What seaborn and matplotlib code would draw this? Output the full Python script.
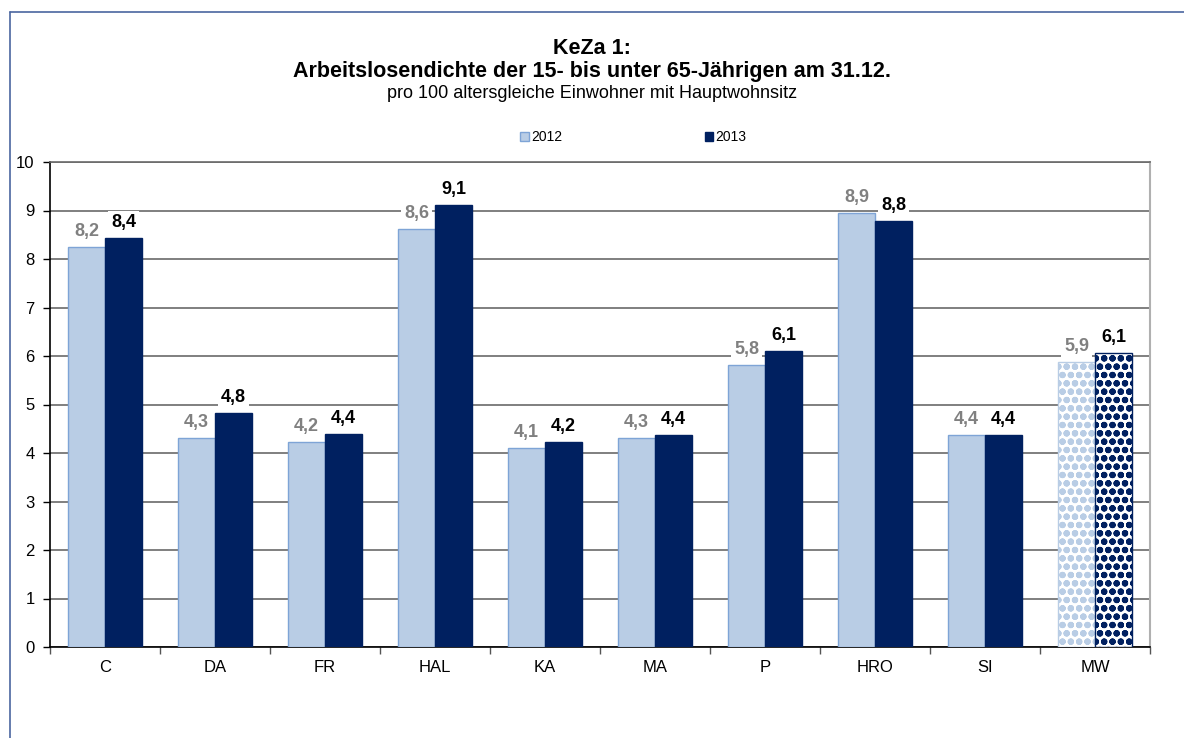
import pandas as pd
import seaborn as sns
import numpy as np
import matplotlib.pyplot as plt
from matplotlib.lines import Line2D

# data
cities = ['C', 'DA', 'FR', 'HAL', 'KA', 'MA', 'P', 'HRO', 'SI', 'MW']
vals_2012 = [8.24, 4.31, 4.23, 8.62, 4.10, 4.31, 5.82, 8.94, 4.38, 5.88]
vals_2013 = [8.44, 4.82, 4.40, 9.12, 4.23, 4.38, 6.10, 8.78, 4.37, 6.07]
years = ['2012', '2013']

df = pd.DataFrame({
    'stadt': cities * 2,
    'jahr': [years[0]] * len(cities) + [years[1]] * len(cities),
    'wert': vals_2012 + vals_2013,
})

light = '#b9cde5'
light_edge = '#7ea4d6'
dark = '#002060'

sns.set_theme(style='white')
plt.rcParams['font.family'] = ['Liberation Sans', 'DejaVu Sans']
plt.rcParams['text.color'] = 'black'
plt.rcParams['xtick.labelcolor'] = 'black'
plt.rcParams['ytick.labelcolor'] = 'black'
plt.rcParams['hatch.linewidth'] = 2.2

fig = plt.figure(figsize=(11.84, 7.38), dpi=100)
ax = fig.add_axes([50 / 1184, 91 / 738, 1100 / 1184, 485 / 738])

sns.barplot(data=df, x='stadt', y='wert', hue='jahr', palette=[light, dark],
            width=0.67, ax=ax, legend=False, saturation=1, zorder=3)

for bar in ax.containers[0]:
    bar.set_edgecolor(light_edge)
    bar.set_linewidth(1)
for bar in ax.containers[1]:
    bar.set_edgecolor(dark)
    bar.set_linewidth(1)

# mean bars (MW) with dotted pattern
mw = cities.index('MW')
b0 = ax.containers[0][mw]
b0.set_facecolor('white')
b0.set_edgecolor(light)
b0.set_hatch('oo')
b1 = ax.containers[1][mw]
b1.set_facecolor('white')
b1.set_edgecolor(dark)
b1.set_hatch('oo')

# value labels
for cont, col in zip(ax.containers, ['#808080', 'black']):
    labels = [f'{v:.1f}'.replace('.', ',') for v in cont.datavalues]
    for bar, lab in zip(cont, labels):
        x = bar.get_x() + bar.get_width() / 2
        ax.annotate(lab, (x, bar.get_height()), xytext=(0, 5), textcoords='offset points',
                    ha='center', va='bottom', fontsize=13, fontweight='bold', color=col,
                    bbox=dict(boxstyle='square,pad=0.15', fc='white', ec='none'), zorder=5)

ax.set_ylim(0, 10)
ax.set_xlim(-0.5, len(cities) - 0.5)
ax.set_yticks(range(0, 11))
ax.yaxis.grid(True, color='#6a6a6a', linewidth=1.2, zorder=0)
ax.set_axisbelow(True)
ax.set_xlabel('')
ax.set_ylabel('')

ax.tick_params(axis='y', which='major', length=5, width=1, color='black',
               direction='out', labelsize=12, pad=6, left=True)
ax.tick_params(axis='x', which='major', length=0, labelsize=12, pad=9)
ax.set_xticks(np.arange(-0.5, len(cities), 1), minor=True)
ax.tick_params(axis='x', which='minor', length=5, width=1, color='#555555',
               direction='out', bottom=True)

for side in ['left', 'bottom']:
    ax.spines[side].set_color('black')
    ax.spines[side].set_linewidth(1.2)
ax.spines['top'].set_color('#6a6a6a')
ax.spines['top'].set_linewidth(1.2)
ax.spines['right'].set_color('#b0b0b0')
ax.spines['right'].set_linewidth(1.5)

# titles
fig.text(0.5, 1 - 49 / 738, 'KeZa 1:', ha='center', va='center',
         fontsize=15.5, fontweight='bold')
fig.text(0.5, 1 - 71 / 738, 'Arbeitslosendichte der 15- bis unter 65-Jährigen am 31.12.',
         ha='center', va='center', fontsize=15.5, fontweight='bold')
fig.text(0.5, 1 - 93 / 738, 'pro 100 altersgleiche Einwohner mit Hauptwohnsitz',
         ha='center', va='center', fontsize=13)

# legend
handles = [plt.Rectangle((0, 0), 1, 1, fc=light, ec=light_edge, lw=1),
           plt.Rectangle((0, 0), 1, 1, fc=dark, ec=dark)]
fig.legend(handles, years, loc='center', bbox_to_anchor=(0.535, 1 - 137 / 738),
           ncol=2, frameon=False, fontsize=10, handlelength=0.6, handleheight=0.6,
           handletextpad=0.15, columnspacing=10.3)

# outer chart border
fig.add_artist(Line2D([9.5 / 1184, 9.5 / 1184], [0, 1 - 12 / 738], color='#4a66a0', lw=1.2))
fig.add_artist(Line2D([9.5 / 1184, 1], [1 - 12 / 738, 1 - 12 / 738], color='#4a66a0', lw=1.2))

fig.savefig('out.png', dpi=100, facecolor='white')
